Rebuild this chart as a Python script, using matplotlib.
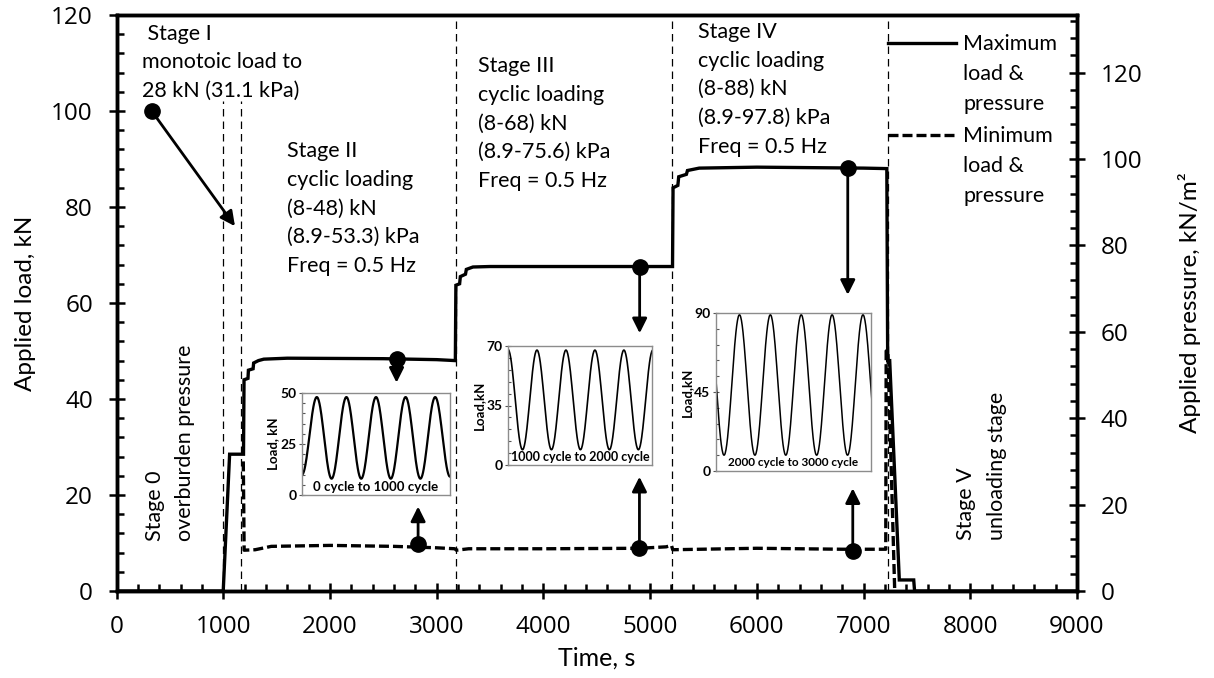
import numpy as np
import matplotlib
matplotlib.use("Agg")
import matplotlib.pyplot as plt
from matplotlib.ticker import MultipleLocator

plt.rcParams['font.family'] = ['Lato', 'DejaVu Sans']

# maximum load trace (time s, load kN)
max_t = [0, 1000, 1060, 1190, 1195, 1232, 1236, 1280, 1285, 1330, 1380, 1600, 2500, 3000, 3175,
         3180, 3215, 3222, 3270, 3278, 3340, 3500, 5210, 5215, 5260, 5268, 5340, 5350, 5460, 6000,
         7000, 7218, 7226, 7245, 7335, 7470, 7478, 9000]
max_load = [0, 0, 28.5, 28.5, 44, 44.3, 46, 46.3, 47.5, 48.0, 48.3, 48.5, 48.4, 48.2, 48.0,
            63.7, 64.0, 65.5, 66.0, 67.0, 67.5, 67.6, 67.6, 84.0, 84.5, 86.3, 86.8, 87.6, 88.1, 88.3,
            88.1, 88.0, 48.0, 48.0, 2.3, 2.3, 0, 0]

# minimum load trace
min_t = [1188, 1196, 1300, 1450, 2000, 2600, 3000, 3170, 3185, 3300, 4000, 4900, 5150, 5200,
         5212, 6000, 6800, 7208, 7212, 7228, 7292]
min_load = [27, 8.5, 8.6, 9.3, 9.5, 9.3, 9.0, 8.8, 8.5, 8.8, 8.8, 8.9, 9.2, 9.5,
            8.6, 8.9, 8.7, 8.7, 50, 50, 0]

# stage boundaries (time, top of line)
sep_t = [995, 1170, 3180, 5205, 7232]
sep_top = [102, 102, 120, 120, 120]

# circle markers and arrow tips
mark_t = [330, 2624, 2826, 4902, 4900, 6852, 6899]
mark_v = [100, 48.3, 9.8, 67.6, 9.0, 88.1, 8.4]
tip_t = [1110, 2624, 2826, 4902, 4900, 6852, 6899]
tip_v = [76, 43.4, 17.6, 53.7, 23.8, 61.7, 21.4]

# insets: extrema of the load waveform (cycle position, kN)
in1_x = [0, 0.5, 1, 1.5, 2, 2.5, 3, 3.5, 4, 4.5, 5]
in1_y = [10, 48, 8, 48, 8, 48, 8, 48, 8, 48, 9]
in2_x = [0, 0.5, 1, 1.5, 2, 2.5, 3, 3.5, 4, 4.5, 5]
in2_y = [68, 9, 67.6, 9, 67.6, 9, 67.6, 9, 67.6, 9, 67.6]
in3_x = [-0.24, 0.26, 0.76, 1.26, 1.76, 2.26, 2.76, 3.26, 3.76, 4.26, 4.76, 5.26]
in3_y = [89, 9, 89, 9, 89, 9, 89, 9, 89, 9, 89, 9]

W, H = 1214, 678
fig = plt.figure(figsize=(W / 100, H / 100), dpi=100)
ax = fig.add_axes([116.5 / W, 87 / H, (1077 - 116.5) / W, (591 - 15) / H])

ax.plot(max_t, max_load, color='k', lw=2.4, solid_joinstyle='miter', zorder=3)
ax.plot(min_t, min_load, color='k', lw=2.4, dashes=(3, 1.2), zorder=3)
for t, top in zip(sep_t, sep_top):
    ax.plot([t, t], [0, top], color='k', lw=0.9, dashes=(6, 4), zorder=2)

for t0, v0, t1, v1 in zip(mark_t, mark_v, tip_t, tip_v):
    ax.annotate('', xy=(t1, v1), xytext=(t0, v0),
                arrowprops=dict(arrowstyle='-|>', color='k', lw=2, mutation_scale=22,
                                shrinkA=0, shrinkB=0), zorder=4)
ax.plot(mark_t, mark_v, 'o', color='k', ms=11, zorder=5)

# legend drawn by hand
ax.plot([7232, 7870], [114.1, 114.1], color='k', lw=2.4)
ax.plot([7232, 7870], [95.0, 95.0], color='k', lw=2.4, dashes=(3, 1.2))
fs = 15.5
ls = 1.55
ax.text(7935, 116.0, 'Maximum\nload &\npressure', fontsize=fs, va='top', ha='left',
        linespacing=1.62)
ax.text(7935, 96.8, 'Minimum\nload &\npressure', fontsize=fs, va='top', ha='left',
        linespacing=1.62)

ax.text(236, 118.2, ' Stage I\nmonotoic load to\n28 kN (31.1 kPa)', fontsize=fs,
        va='top', ha='left', linespacing=ls)
ax.text(1597, 93.8, 'Stage II\ncyclic loading\n(8-48) kN\n(8.9-53.3) kPa\nFreq = 0.5 Hz',
        fontsize=fs, va='top', ha='left', linespacing=ls)
ax.text(3388, 111.5, 'Stage III\ncyclic loading\n(8-68) kN\n(8.9-75.6) kPa\nFreq = 0.5 Hz',
        fontsize=fs, va='top', ha='left', linespacing=ls)
ax.text(5448, 118.6, 'Stage IV\ncyclic loading\n(8-88) kN\n(8.9-97.8) kPa\nFreq = 0.5 Hz',
        fontsize=fs, va='top', ha='left', linespacing=ls)
ax.text(267, 10.4, 'Stage 0\noverburden pressure', fontsize=fs, rotation=90,
        va='bottom', ha='left', multialignment='left', linespacing=1.65)
ax.text(7867, 10.6, 'Stage V\nunloading stage', fontsize=fs, rotation=90,
        va='bottom', ha='left', multialignment='left', linespacing=1.7)

ax.set_xlim(0, 9000)
ax.set_ylim(0, 120)
ax.xaxis.set_major_locator(MultipleLocator(1000))
ax.xaxis.set_minor_locator(MultipleLocator(200))
ax.yaxis.set_major_locator(MultipleLocator(20))
ax.yaxis.set_minor_locator(MultipleLocator(4))
for s in ax.spines.values():
    s.set_linewidth(2.5)
ax.tick_params(which='major', direction='inout', length=12, width=1.8, labelsize=17.5, pad=11,
               top=False, right=False, labelfontfamily='Open Sans')
ax.tick_params(which='minor', direction='in', length=5, width=1.8, top=False, right=False)
ax.set_xlabel('Time, s', fontsize=18, labelpad=6)
ax.set_ylabel('Applied load, kN', fontsize=17.5, labelpad=11)

ax2 = ax.twinx()
ax2.set_ylim(0, 120 / 0.9)
ax2.yaxis.set_major_locator(MultipleLocator(20))
ax2.yaxis.set_minor_locator(MultipleLocator(4))
ax2.tick_params(which='major', direction='inout', length=12, width=1.8, labelsize=17.5, pad=11,
                labelfontfamily='Open Sans')
ax2.tick_params(which='minor', direction='in', length=5, width=1.8)
for s in ax2.spines.values():
    s.set_linewidth(2.5)
ax2.set_ylabel('Applied pressure, kN/m²', fontsize=17.5, labelpad=26)


def half_cosine(xs, ys, n=40):
    # smooth the waveform between successive extrema
    px, py = [], []
    for x0, y0, x1, y1 in zip(xs[:-1], ys[:-1], xs[1:], ys[1:]):
        s = np.linspace(0, 1, n)
        px.extend(x0 + (x1 - x0) * s)
        py.extend(y0 + (y1 - y0) * (1 - np.cos(np.pi * s)) / 2)
    return px, py


def inset(box, xs, ys, xlim, ymax, minor, label, ylab, tfs, lw):
    x0, y0, x1, y1 = box
    a = fig.add_axes([x0 / W, (H - y1) / H, (x1 - x0) / W, (y1 - y0) / H], zorder=6)
    px, py = half_cosine(xs, ys)
    a.plot(px, py, color='k', lw=lw)
    a.set_xlim(*xlim)
    a.set_ylim(0, ymax)
    a.set_xticks([])
    a.set_yticks([0, ymax / 2, ymax])
    a.set_yticklabels([f'{v:g}' for v in [0, ymax / 2, ymax]], fontweight='bold')
    a.yaxis.set_minor_locator(MultipleLocator(minor))
    for s in a.spines.values():
        s.set_color('#8c8c8c')
        s.set_linewidth(1)
    a.tick_params(which='major', direction='inout', length=4, width=0.8, color='#555555',
                  labelsize=10, pad=2)
    a.tick_params(which='minor', direction='in', length=2.5, width=0.8, color='#555555')
    a.set_ylabel(ylab, fontsize=9.5, fontweight='bold', labelpad=1)
    a.text(0.5, 0.02, label, transform=a.transAxes, ha='center', va='bottom',
           fontsize=tfs, fontweight='bold')
    return a


inset((302, 393, 450, 495), in1_x, in1_y, (0, 5), 50, 5, '0 cycle to 1000 cycle', 'Load, kN',
      9.5, 1.6)
inset((508, 346, 652, 465), in2_x, in2_y, (0, 4.97), 70, 7, '1000 cycle to 2000 cycle',
      'Load,kN', 9, 1.2)
inset((716, 313, 871, 471), in3_x, in3_y, (0, 5.02), 90, 9, '2000 cycle to 3000 cycle',
      'Load,kN', 8.5, 1.1)

fig.savefig('out.png', dpi=100)
